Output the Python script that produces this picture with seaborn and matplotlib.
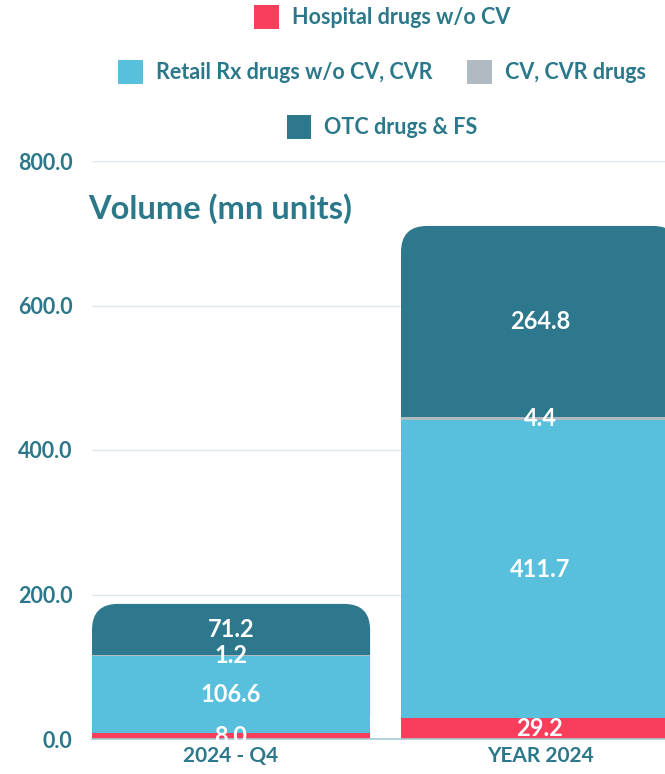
"""
Stacked volume bars (mn units) for 2024 Q4 vs full year 2024.
"""

import numpy as np
import pandas as pd
import matplotlib
matplotlib.use("Agg")
import matplotlib.pyplot as plt
import seaborn as sns
from matplotlib.patches import FancyBboxPatch, Patch

# data
periods = ["2024 - Q4", "YEAR 2024"]
hospital = [8.0, 29.2]
retail_rx = [106.6, 411.7]
cv_cvr = [1.2, 4.4]
otc_fs = [71.2, 264.8]

series_names = ["Hospital drugs w/o CV", "Retail Rx drugs w/o CV, CVR",
                "CV, CVR drugs", "OTC drugs & FS"]
series_colors = ["#F83E5B", "#58C0DD", "#AFBBC0", "#2D788C"]
text_color = "#2C788B"

y_ticks = [0, 200, 400, 600, 800]

sns.set_theme(style="white")
plt.rcParams["font.family"] = ["Lato", "DejaVu Sans"]

df = pd.DataFrame({
    "period": periods,
    series_names[0]: hospital,
    series_names[1]: retail_rx,
    series_names[2]: cv_cvr,
    series_names[3]: otc_fs,
})
values = df[series_names].to_numpy()
cum = np.cumsum(values, axis=1)

fig = plt.figure(figsize=(6.65, 7.74), dpi=100)
ax = fig.add_axes([92 / 665, 35 / 774, 573 / 665, (739 - 161) / 774])

# draw stacked bars back to front (cumulative totals, top series first)
bar_width = 0.9
for k in range(len(series_names) - 1, -1, -1):
    sub = pd.DataFrame({"period": periods, "v": cum[:, k]})
    sns.barplot(data=sub, x="period", y="v", color=series_colors[k],
                width=bar_width, saturation=1, linewidth=0, ax=ax, zorder=2)

ax.set_xlim(-0.45, -0.45 + 573 / 309)
ax.set_ylim(0, 800)

# swap the top series' rectangles for rounded ones
fig.canvas.draw()
n = len(periods)
top_patches = ax.patches[:n]
px_x = ax.transData.transform((1, 0))[0] - ax.transData.transform((0, 0))[0]
px_y = ax.transData.transform((0, 1))[1] - ax.transData.transform((0, 0))[1]
aspect = px_x / px_y
radius = 26 / px_x
for p in top_patches:
    x0, y0 = p.get_x(), p.get_y()
    w, h = p.get_width(), p.get_height()
    p.set_visible(False)
    rp = FancyBboxPatch((x0, y0), w, h,
                        boxstyle=f"round,pad=0,rounding_size={radius}",
                        mutation_aspect=aspect,
                        facecolor=series_colors[-1], edgecolor="none",
                        zorder=1.9)
    ax.add_patch(rp)

# segment labels
for i in range(n):
    for k in range(len(series_names)):
        base = cum[i, k] - values[i, k]
        ax.text(i, base + values[i, k] / 2, f"{values[i, k]:.1f}",
                ha="center", va="center", color="white",
                fontsize=17, fontweight="bold", zorder=5)

# axes styling
ax.set_yticks(y_ticks)
ax.set_yticklabels([f"{t:.1f}" for t in y_ticks])
ax.grid(axis="y", color="#DCE8EC", linewidth=1, zorder=0)
ax.set_axisbelow(True)
for s in ["top", "right", "left"]:
    ax.spines[s].set_visible(False)
ax.spines["bottom"].set_color("#A8CBD3")
ax.spines["bottom"].set_linewidth(1.2)
ax.tick_params(axis="both", length=0, labelcolor=text_color)
ax.tick_params(axis="y", pad=14, labelsize=15.5)
ax.tick_params(axis="x", pad=5, labelsize=15)
for lab in ax.get_xticklabels() + ax.get_yticklabels():
    lab.set_fontweight("bold")
ax.set_xlabel("")
ax.set_ylabel("")

ax.text(-4 / 573, 0.918, "Volume (mn units)", transform=ax.transAxes,
        ha="left", va="center", fontsize=23.5, fontweight="bold",
        color=text_color)

# legend in three centred rows
handles = [Patch(facecolor=c, edgecolor="none") for c in series_colors]
rows = [[0], [1, 2], [3]]
row_y = [1 - 17 / 774, 1 - 72 / 774, 1 - 127 / 774]
for idx, yy in zip(rows, row_y):
    fig.legend([handles[j] for j in idx], [series_names[j] for j in idx],
               loc="center", bbox_to_anchor=(382 / 665, yy), ncol=len(idx),
               frameon=False, labelcolor=text_color,
               handlelength=1.15, handleheight=1.4, handletextpad=0.6,
               columnspacing=1.6, borderpad=0,
               prop={"weight": "bold", "size": 15.5})

fig.savefig("out.png", dpi=100)
